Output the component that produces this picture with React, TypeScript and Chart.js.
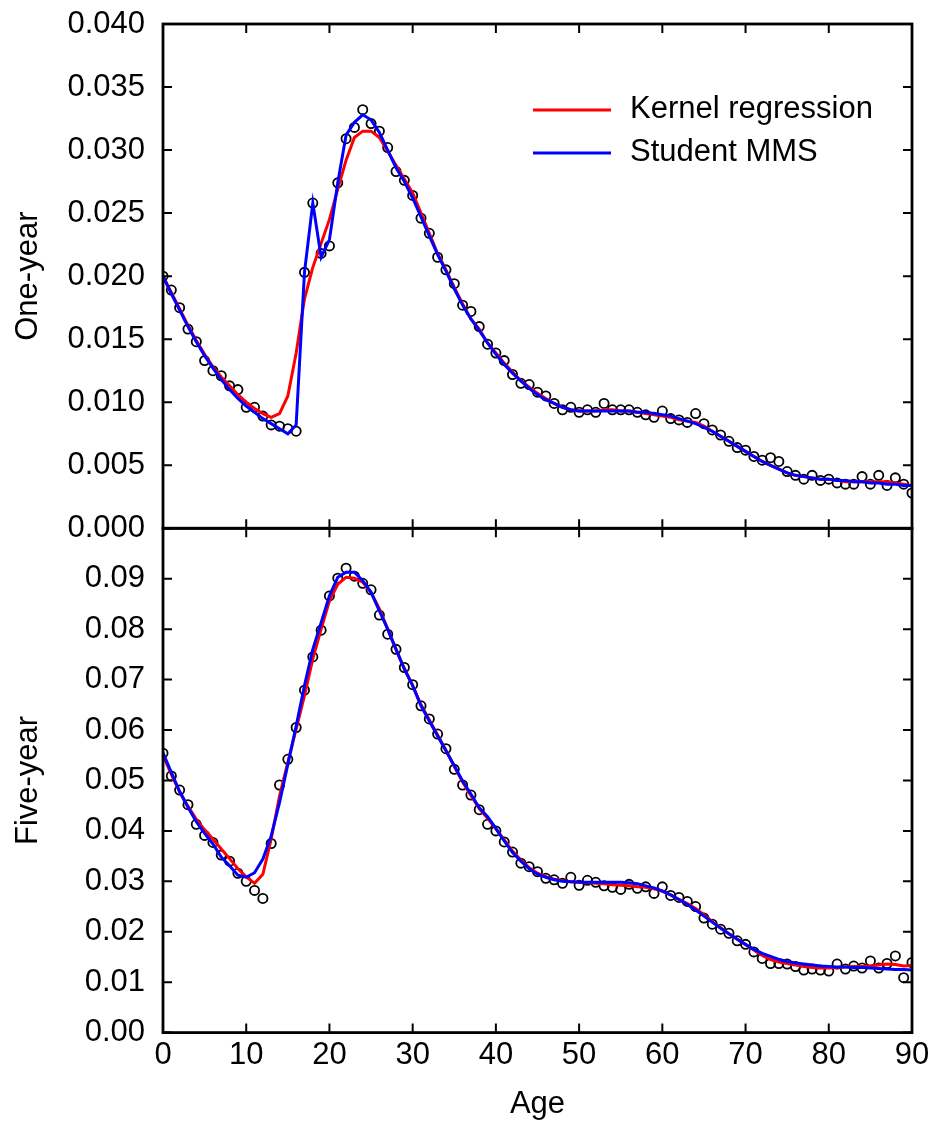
import { useEffect, useRef } from 'react';
import { Chart, registerables } from 'chart.js';

Chart.register(...registerables);

const ages = [
  0, 1, 2, 3, 4, 5, 6, 7, 8, 9, 10, 11, 12, 13, 14, 15, 16, 17, 18, 19,
  20, 21, 22, 23, 24, 25, 26, 27, 28, 29, 30, 31, 32, 33, 34, 35, 36, 37, 38, 39,
  40, 41, 42, 43, 44, 45, 46, 47, 48, 49, 50, 51, 52, 53, 54, 55, 56, 57, 58, 59,
  60, 61, 62, 63, 64, 65, 66, 67, 68, 69, 70, 71, 72, 73, 74, 75, 76, 77, 78, 79,
  80, 81, 82, 83, 84, 85, 86, 87, 88, 89, 90,
];

const oneYearObserved = [
  0.0200, 0.0189, 0.0175, 0.0158, 0.0148, 0.0133, 0.0125, 0.0121, 0.0113, 0.0110,
  0.0096, 0.0096, 0.0089, 0.0082, 0.0081, 0.0079, 0.0077, 0.0203, 0.0258, 0.0218,
  0.0224, 0.0274, 0.0309, 0.0318, 0.0332, 0.0321, 0.0315, 0.0302, 0.0283, 0.0276,
  0.0264, 0.0246, 0.0234, 0.0215, 0.0205, 0.0194, 0.0177, 0.0172, 0.0160, 0.0146,
  0.0139, 0.0133, 0.0122, 0.0115, 0.0114, 0.0108, 0.0105, 0.0099, 0.0094, 0.0096,
  0.0092, 0.0094, 0.0092, 0.0099, 0.0094, 0.0094, 0.0094, 0.0092, 0.0090, 0.0088,
  0.0093, 0.0087, 0.0086, 0.0084, 0.0091, 0.0083, 0.0078, 0.0074, 0.0069, 0.0064,
  0.0062, 0.0057, 0.0054, 0.0056, 0.0053, 0.0045, 0.0042, 0.0039, 0.0042, 0.0038,
  0.0039, 0.0036, 0.0035, 0.0035, 0.0041, 0.0035, 0.0042, 0.0034, 0.0040, 0.0035,
  0.0028,
];

const oneYearKernel = [
  0.0200, 0.0187, 0.0174, 0.0161, 0.0149, 0.0138, 0.0128, 0.0120, 0.0113, 0.0106,
  0.0100, 0.0095, 0.0091, 0.0088, 0.0091, 0.0105, 0.0139, 0.0182, 0.0207, 0.0226,
  0.0245, 0.0269, 0.0292, 0.0310, 0.0315, 0.0315, 0.0310, 0.0299, 0.0288, 0.0277,
  0.0266, 0.0250, 0.0234, 0.0218, 0.0205, 0.0191, 0.0178, 0.0166, 0.0158, 0.0147,
  0.0139, 0.0131, 0.0124, 0.0117, 0.0112, 0.0107, 0.0103, 0.0099, 0.0096, 0.0094,
  0.0093, 0.0093, 0.0093, 0.0094, 0.0094, 0.0093, 0.0093, 0.0092, 0.0091, 0.0090,
  0.0089, 0.0088, 0.0086, 0.0085, 0.0084, 0.0081, 0.0077, 0.0073, 0.0069, 0.0065,
  0.0061, 0.0057, 0.0053, 0.0050, 0.0047, 0.0044, 0.0042, 0.0041, 0.0040, 0.0039,
  0.0039, 0.0038, 0.0037, 0.0037, 0.0037, 0.0037, 0.0037, 0.0037, 0.0036, 0.0035,
  0.0034,
];

const oneYearMMS = [
  0.0200, 0.0186, 0.0173, 0.0160, 0.0148, 0.0137, 0.0127, 0.0118, 0.0110, 0.0103,
  0.0097, 0.0092, 0.0087, 0.0083, 0.0079, 0.0075, 0.0082, 0.0203, 0.0258, 0.0215,
  0.0229, 0.0274, 0.0312, 0.0322, 0.0328, 0.0324, 0.0314, 0.0300, 0.0286, 0.0275,
  0.0262, 0.0247, 0.0232, 0.0217, 0.0204, 0.0190, 0.0177, 0.0166, 0.0157, 0.0147,
  0.0138, 0.0130, 0.0123, 0.0117, 0.0111, 0.0106, 0.0102, 0.0099, 0.0096, 0.0094,
  0.0093, 0.0093, 0.0093, 0.0093, 0.0093, 0.0093, 0.0093, 0.0092, 0.0092, 0.0091,
  0.0090, 0.0089, 0.0087, 0.0085, 0.0083, 0.0080, 0.0077, 0.0073, 0.0069, 0.0065,
  0.0061, 0.0057, 0.0053, 0.0050, 0.0047, 0.0044, 0.0042, 0.0041, 0.0040, 0.0039,
  0.0039, 0.0038, 0.0038, 0.0037, 0.0037, 0.0036, 0.0036, 0.0035, 0.0035, 0.0034,
  0.0034,
];

const fiveYearObserved = [
  0.0554, 0.0509, 0.0481, 0.0452, 0.0413, 0.0391, 0.0377, 0.0352, 0.0340, 0.0316,
  0.0300, 0.0282, 0.0266, 0.0375, 0.0491, 0.0542, 0.0605, 0.0679, 0.0745, 0.0798,
  0.0866, 0.0901, 0.0921, 0.0905, 0.0891, 0.0878, 0.0828, 0.0790, 0.0760, 0.0724,
  0.0690, 0.0648, 0.0622, 0.0592, 0.0563, 0.0522, 0.0491, 0.0471, 0.0442, 0.0413,
  0.0400, 0.0378, 0.0358, 0.0336, 0.0329, 0.0319, 0.0306, 0.0303, 0.0296, 0.0308,
  0.0292, 0.0302, 0.0298, 0.0291, 0.0288, 0.0284, 0.0294, 0.0286, 0.0289, 0.0276,
  0.0289, 0.0272, 0.0268, 0.0260, 0.0250, 0.0227, 0.0215, 0.0205, 0.0197, 0.0182,
  0.0175, 0.0160, 0.0147, 0.0137, 0.0137, 0.0136, 0.0131, 0.0124, 0.0126, 0.0124,
  0.0122, 0.0136, 0.0126, 0.0132, 0.0128, 0.0142, 0.0128, 0.0137, 0.0152, 0.0109,
  0.0139,
];

const fiveYearKernel = [
  0.0550, 0.0512, 0.0477, 0.0449, 0.0423, 0.0402, 0.0384, 0.0364, 0.0345, 0.0325,
  0.0309, 0.0296, 0.0314, 0.0384, 0.0469, 0.0536, 0.0602, 0.0668, 0.0741, 0.0800,
  0.0856, 0.0889, 0.0903, 0.0901, 0.0893, 0.0873, 0.0840, 0.0800, 0.0760, 0.0722,
  0.0688, 0.0650, 0.0620, 0.0590, 0.0560, 0.0528, 0.0497, 0.0470, 0.0444, 0.0425,
  0.0404, 0.0382, 0.0360, 0.0342, 0.0327, 0.0316, 0.0309, 0.0304, 0.0301, 0.0299,
  0.0298, 0.0297, 0.0296, 0.0295, 0.0293, 0.0292, 0.0291, 0.0289, 0.0288, 0.0285,
  0.0280, 0.0273, 0.0264, 0.0256, 0.0246, 0.0234, 0.0220, 0.0208, 0.0196, 0.0185,
  0.0174, 0.0164, 0.0153, 0.0145, 0.0140, 0.0137, 0.0134, 0.0131, 0.0129, 0.0128,
  0.0128, 0.0129, 0.0130, 0.0131, 0.0131, 0.0132, 0.0134, 0.0136, 0.0135, 0.0132,
  0.0133,
];

const fiveYearMMS = [
  0.0555, 0.0516, 0.0478, 0.0447, 0.0418, 0.0395, 0.0374, 0.0348, 0.0331, 0.0312,
  0.0308, 0.0317, 0.0344, 0.0390, 0.0456, 0.0532, 0.0608, 0.0688, 0.0760, 0.0813,
  0.0866, 0.0903, 0.0913, 0.0913, 0.0896, 0.0873, 0.0836, 0.0800, 0.0760, 0.0721,
  0.0688, 0.0648, 0.0618, 0.0588, 0.0559, 0.0529, 0.0499, 0.0473, 0.0446, 0.0428,
  0.0405, 0.0380, 0.0357, 0.0340, 0.0325, 0.0314, 0.0308, 0.0303, 0.0300, 0.0299,
  0.0298, 0.0298, 0.0298, 0.0298, 0.0298, 0.0298, 0.0297, 0.0295, 0.0291, 0.0287,
  0.0281, 0.0273, 0.0264, 0.0254, 0.0243, 0.0231, 0.0219, 0.0207, 0.0196, 0.0185,
  0.0175, 0.0165, 0.0157, 0.0151, 0.0145, 0.0141, 0.0138, 0.0136, 0.0134, 0.0132,
  0.0131, 0.0130, 0.0130, 0.0129, 0.0129, 0.0128, 0.0127, 0.0126, 0.0125, 0.0125,
  0.0124,
];

const yTopTitle = 'One-year';
const yBottomTitle = 'Five-year';
const xTitle = 'Age';
const kernelLabel = 'Kernel regression';
const mmsLabel = 'Student MMS';

const FONT = '"Liberation Sans", Arial, Helvetica, sans-serif';
const FS = 31;
const RED = '#ff0000';
const BLUE = '#0000ff';

const toPoints = (vals: number[]) => vals.map((v, i) => ({ x: ages[i], y: v }));

const TICK_LEN = 9;

const framePlugin = {
  id: 'frameTicks',
  afterDraw(chart: any) {
    const { ctx, chartArea, scales } = chart;
    const xs = scales.x;
    ctx.save();
    ctx.strokeStyle = '#000';
    ['yTop', 'yBottom'].forEach((id) => {
      const s = scales[id];
      const top = s.top;
      const bottom = s.bottom;
      const left = chartArea.left;
      const right = chartArea.right;
      ctx.lineWidth = 2;
      ctx.beginPath();
      s.ticks.forEach((t: any) => {
        const py = s.getPixelForValue(t.value);
        ctx.moveTo(left, py);
        ctx.lineTo(left + TICK_LEN, py);
        ctx.moveTo(right, py);
        ctx.lineTo(right - TICK_LEN, py);
      });
      xs.ticks.forEach((t: any) => {
        const px = xs.getPixelForValue(t.value);
        ctx.moveTo(px, top);
        ctx.lineTo(px, top + TICK_LEN);
        ctx.moveTo(px, bottom);
        ctx.lineTo(px, bottom - TICK_LEN);
      });
      ctx.stroke();
      ctx.lineWidth = 2.8;
      ctx.strokeRect(left, top, right - left, bottom - top);
    });
    ctx.restore();
  },
};

const legendPlugin = {
  id: 'insideLegend',
  afterDraw(chart: any) {
    const { ctx, chartArea } = chart;
    const ds = chart.data.datasets;
    const items = [ds[1], ds[0]];
    ctx.save();
    ctx.font = `${FS}px ${FONT}`;
    ctx.textBaseline = 'middle';
    ctx.textAlign = 'left';
    items.forEach((d: any, i: number) => {
      const y = chartArea.top + 86 + i * 43;
      ctx.strokeStyle = d.borderColor;
      ctx.lineWidth = 3;
      ctx.beginPath();
      ctx.moveTo(chartArea.left + 370, y);
      ctx.lineTo(chartArea.left + 448, y);
      ctx.stroke();
      ctx.fillStyle = '#000';
      ctx.fillText(d.label, chartArea.left + 467, y - 1);
    });
    ctx.restore();
  },
};

const fitY = (s: any) => {
  s.width = 163;
  s.paddingTop = 0;
  s.paddingBottom = 0;
};

export default function App() {
  const ref = useRef<HTMLCanvasElement | null>(null);

  useEffect(() => {
    if (!ref.current) return;
    const lineDs = (label: string, vals: number[], color: string, axis: string) => ({
      type: 'line' as const,
      label,
      data: toPoints(vals),
      borderColor: color,
      backgroundColor: color,
      borderWidth: 3,
      pointRadius: 0,
      tension: 0,
      showLine: true,
      yAxisID: axis,
    });
    const dotDs = (label: string, vals: number[], axis: string) => ({
      type: 'scatter' as const,
      label,
      data: toPoints(vals),
      borderColor: '#000',
      backgroundColor: 'rgba(0,0,0,0)',
      borderWidth: 1.8,
      pointRadius: 4.6,
      showLine: false,
      yAxisID: axis,
    });

    const chart = new Chart(ref.current, {
      type: 'scatter',
      data: {
        datasets: [
          lineDs(mmsLabel, oneYearMMS, BLUE, 'yTop'),
          lineDs(kernelLabel, oneYearKernel, RED, 'yTop'),
          dotDs('One-year observed', oneYearObserved, 'yTop'),
          lineDs(mmsLabel, fiveYearMMS, BLUE, 'yBottom'),
          lineDs(kernelLabel, fiveYearKernel, RED, 'yBottom'),
          dotDs('Five-year observed', fiveYearObserved, 'yBottom'),
        ] as any,
      },
      options: {
        animation: false,
        responsive: false,
        events: [],
        layout: { padding: { top: 24, right: 22, bottom: 2, left: 0 } },
        font: { family: FONT },
        plugins: {
          legend: { display: false },
          tooltip: { enabled: false },
        },
        scales: {
          x: {
            type: 'linear',
            min: 0,
            max: 90,
            grid: { display: false, drawTicks: false },
            border: { display: false },
            ticks: {
              stepSize: 10,
              autoSkip: false,
              maxRotation: 0,
              padding: 4,
              color: '#000',
              font: { family: FONT, size: FS },
            },
            title: {
              display: true,
              text: xTitle,
              color: '#000',
              font: { family: FONT, size: FS },
              padding: { top: 8, bottom: 1 },
            },
          },
          yBottom: {
            type: 'linear',
            position: 'left',
            stack: 'panels',
            stackWeight: 1,
            weight: 0,
            min: 0,
            max: 0.1,
            grid: { display: false, drawTicks: false },
            border: { display: false },
            ticks: {
              stepSize: 0.01,
              autoSkip: false,
              padding: 18,
              color: '#000',
              font: { family: FONT, size: FS },
              callback: (v: any) => (Number(v) > 0.0995 ? '' : Number(v).toFixed(2)),
            },
            title: {
              display: true,
              text: yBottomTitle,
              color: '#000',
              font: { family: FONT, size: FS },
              padding: { top: 10, bottom: 0 },
            },
            afterFit: fitY,
          },
          yTop: {
            type: 'linear',
            position: 'left',
            stack: 'panels',
            stackWeight: 1,
            weight: 1,
            min: 0,
            max: 0.04,
            grid: { display: false, drawTicks: false },
            border: { display: false },
            ticks: {
              stepSize: 0.005,
              autoSkip: false,
              padding: 18,
              color: '#000',
              font: { family: FONT, size: FS },
              callback: (v: any) => Number(v).toFixed(3),
            },
            title: {
              display: true,
              text: yTopTitle,
              color: '#000',
              font: { family: FONT, size: FS },
              padding: { top: 10, bottom: 0 },
            },
            afterFit: fitY,
          },
        },
      } as any,
      plugins: [framePlugin, legendPlugin],
    });
    return () => chart.destroy();
  }, []);

  return (
    <div style={{ position: 'absolute', left: 0, top: 0, width: 934, height: 1126, background: '#fff' }}>
      <canvas ref={ref} width={934} height={1126} style={{ display: 'block' }} />
    </div>
  );
}
